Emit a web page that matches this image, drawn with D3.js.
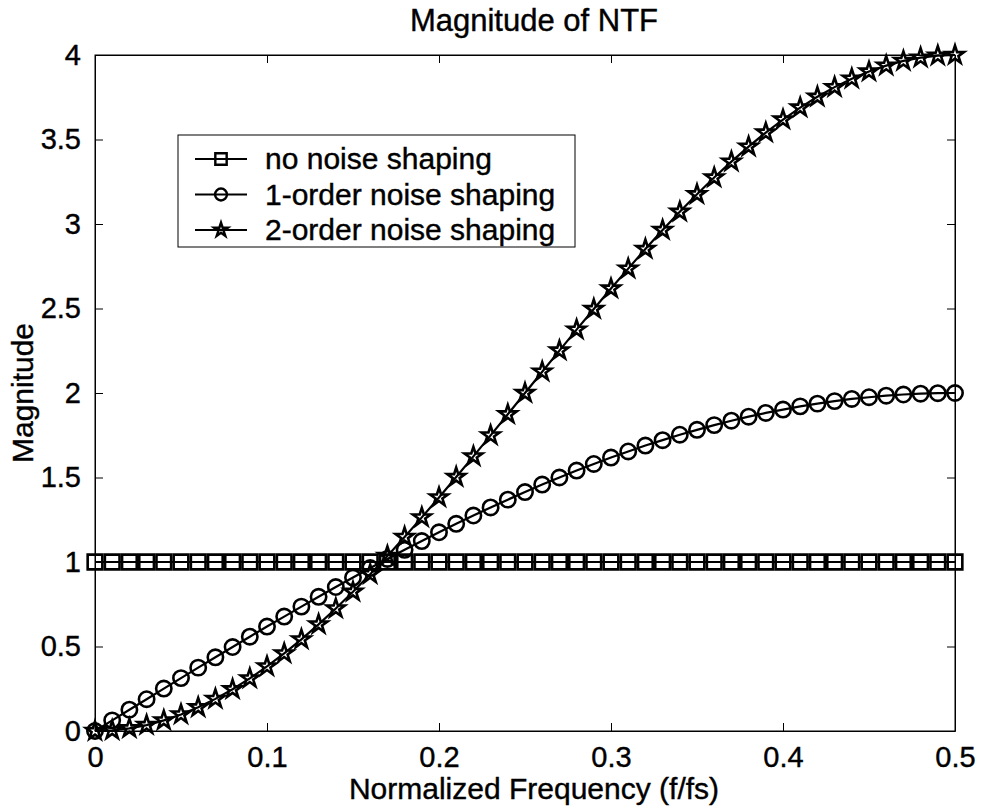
<!DOCTYPE html>
<html>
<head>
<meta charset="utf-8">
<script src="https://d3js.org/d3.v7.min.js"></script>
<style>
  body { margin: 0; background: #fff; }
  text { font-family: "Liberation Sans", Arial, sans-serif; fill: #000; }
</style>
</head>
<body>
<div id="chart"></div>
<script>

// normalized frequency points (f/fs)
var freq = [0,0.01,0.02,0.03,0.04,0.05,0.06,0.07,0.08,0.09,0.10,0.11,0.12,0.13,0.14,0.15,0.16,0.17,0.18,0.19,0.20,
            0.21,0.22,0.23,0.24,0.25,0.26,0.27,0.28,0.29,0.30,0.31,0.32,0.33,0.34,0.35,0.36,0.37,0.38,0.39,0.40,
            0.41,0.42,0.43,0.44,0.45,0.46,0.47,0.48,0.49,0.50];

// magnitudes
var noShaping = [1,1,1,1,1,1,1,1,1,1,1,1,1,1,1,1,1,1,1,1,1,1,1,1,1,1,1,1,1,1,1,1,1,1,1,1,1,1,1,1,1,1,1,1,1,1,1,1,1,1,1];
var order1 = [0,0.063,0.126,0.188,0.251,0.313,0.375,0.436,0.497,0.558,0.618,0.677,0.736,0.794,0.852,0.908,0.964,1.018,
              1.072,1.124,1.176,1.226,1.275,1.323,1.369,1.414,1.458,1.500,1.541,1.580,1.618,1.654,1.689,1.721,1.753,
              1.782,1.810,1.836,1.860,1.882,1.902,1.921,1.937,1.952,1.965,1.975,1.984,1.991,1.996,1.999,2.000];
var order2 = [0,0.004,0.016,0.035,0.063,0.098,0.140,0.190,0.247,0.311,0.382,0.459,0.542,0.631,0.725,0.824,0.928,1.036,
              1.148,1.264,1.382,1.503,1.625,1.749,1.874,2.000,2.126,2.251,2.375,2.497,2.618,2.736,2.852,2.964,3.072,
              3.176,3.275,3.369,3.458,3.541,3.618,3.689,3.753,3.810,3.860,3.902,3.937,3.965,3.984,3.996,4.000];

var xTicks = [0, 0.1, 0.2, 0.3, 0.4, 0.5];
var yTicks = [0, 0.5, 1, 1.5, 2, 2.5, 3, 3.5, 4];
var seriesNames = ["no noise shaping", "1-order noise shaping", "2-order noise shaping"];

var series = [
  { name: seriesNames[0], values: noShaping, marker: "square" },
  { name: seriesNames[1], values: order1, marker: "circle" },
  { name: seriesNames[2], values: order2, marker: "star" }
];

var margin = {top: 55, right: 26, bottom: 78, left: 95},
    width = 981 - margin.left - margin.right,
    height = 809 - margin.top - margin.bottom;

var svg = d3.select("#chart")
  .append("svg")
    .attr("width", 981)
    .attr("height", 809)
  .append("g")
    .attr("transform", "translate(" + margin.left + "," + margin.top + ")");

var x = d3.scaleLinear().domain([0, 0.5]).range([0, width]);
var y = d3.scaleLinear().domain([0, 4]).range([height, 0]);

// axes, ticks pointing inward like matlab
var fmt = function(d) { return d3.format("")(d); };
var xAxis = svg.append("g")
  .attr("transform", "translate(0," + height + ")")
  .call(d3.axisBottom(x).tickValues(xTicks).tickSizeInner(-8).tickSizeOuter(0).tickPadding(15).tickFormat(fmt));
svg.append("g")
  .call(d3.axisTop(x).tickValues(xTicks).tickSizeInner(-8).tickSizeOuter(0).tickFormat(""));
svg.append("g")
  .call(d3.axisLeft(y).tickValues(yTicks).tickSizeInner(-8).tickSizeOuter(0).tickPadding(14).tickFormat(fmt));
svg.append("g")
  .attr("transform", "translate(" + width + ",0)")
  .call(d3.axisRight(y).tickValues(yTicks).tickSizeInner(-8).tickSizeOuter(0).tickFormat(""));

svg.selectAll(".domain").attr("stroke", "#000").attr("stroke-width", 1);
svg.selectAll(".tick line").attr("stroke", "#000").attr("stroke-width", 1);
svg.selectAll(".tick text").style("font-size", "29px").attr("fill", "#000")
  .attr("stroke", "#000").attr("stroke-width", 0.4);
xAxis.selectAll(".tick text").attr("dy", "0.71em");

// box edges
svg.append("rect")
  .attr("x", 0).attr("y", 0)
  .attr("width", width).attr("height", height)
  .attr("fill", "none").attr("stroke", "#000").attr("stroke-width", 1);

function markerPath(type, scale) {
  var sym = d3.symbol();
  if (type === "square") return sym.type(d3.symbolSquare).size(215 * scale)();
  if (type === "circle") return sym.type(d3.symbolCircle).size(185 * scale)();
  return sym.type(d3.symbolStar).size(100 * scale)();
}

var line = d3.line()
  .x(function(d, i) { return x(freq[i]); })
  .y(function(d) { return y(d); });

series.forEach(function(s) {
  svg.append("path")
    .datum(s.values)
    .attr("fill", "none")
    .attr("stroke", "#000")
    .attr("stroke-width", 2.2)
    .attr("d", line);

  svg.append("g").selectAll("path")
    .data(s.values)
    .enter().append("path")
      .attr("d", markerPath(s.marker, 1))
      .attr("transform", function(d, i) { return "translate(" + x(freq[i]) + "," + y(d) + ")"; })
      .attr("fill", "none")
      .attr("stroke", "#000")
      .attr("stroke-width", 2.6);
});

// legend
var legend = svg.append("g").attr("transform", "translate(" + (178 - margin.left) + "," + (135 - margin.top) + ")");
legend.append("rect")
  .attr("width", 397).attr("height", 112)
  .attr("fill", "#fff").attr("stroke", "#000").attr("stroke-width", 1);

series.forEach(function(s, i) {
  var ly = 24 + i * 35.5;
  legend.append("line")
    .attr("x1", 17).attr("x2", 69).attr("y1", ly).attr("y2", ly)
    .attr("stroke", "#000").attr("stroke-width", 2.2);
  legend.append("path")
    .attr("d", markerPath(s.marker, 0.6))
    .attr("transform", "translate(43," + ly + ")")
    .attr("fill", "none").attr("stroke", "#000").attr("stroke-width", 2.4);
  legend.append("text")
    .attr("x", 87).attr("y", ly + 10)
    .style("font-size", "30px")
    .attr("stroke", "#000").attr("stroke-width", 0.4)
    .text(s.name);
});

// title and axis labels
svg.append("text")
  .attr("x", width / 2 + 9).attr("y", 31 - margin.top)
  .style("text-anchor", "middle").style("font-size", "31px")
  .attr("stroke", "#000").attr("stroke-width", 0.4)
  .text("Magnitude of NTF");

svg.append("text")
  .attr("x", width / 2 + 9).attr("y", 799 - margin.top)
  .style("text-anchor", "middle").style("font-size", "30px")
  .attr("stroke", "#000").attr("stroke-width", 0.4)
  .text("Normalized Frequency (f/fs)");

svg.append("text")
  .attr("transform", "rotate(-90)")
  .attr("x", -height / 2).attr("y", 33 - margin.left)
  .style("text-anchor", "middle").style("font-size", "30px")
  .attr("stroke", "#000").attr("stroke-width", 0.4)
  .text("Magnitude");

</script>
</body>
</html>
